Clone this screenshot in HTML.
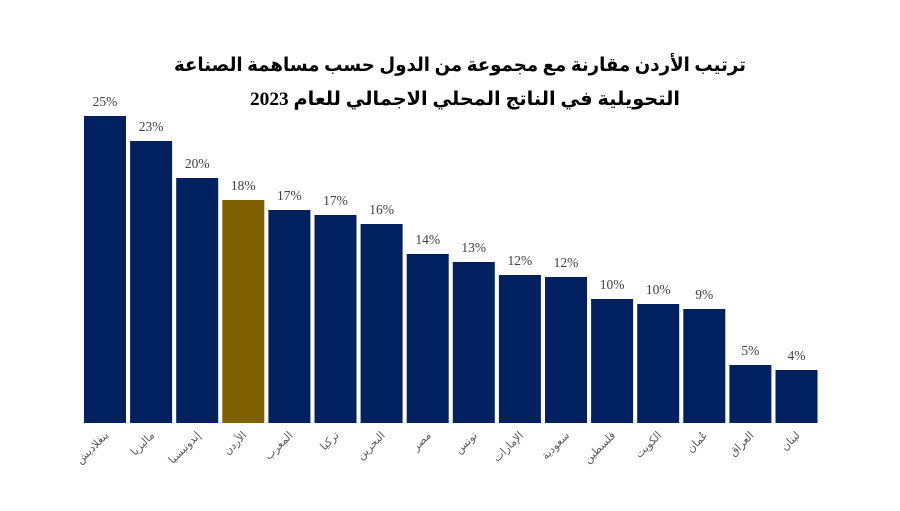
<!DOCTYPE html>
<html><head><meta charset="utf-8"><style>
body{margin:0;background:#fff;width:900px;height:506px;overflow:hidden}
</style></head><body>
<svg width="900" height="506" xmlns="http://www.w3.org/2000/svg" font-family="'Liberation Serif','DejaVu Serif','DejaVu Sans',serif">
<text x="460" y="71" text-anchor="middle" font-size="19" font-weight="bold" fill="#000" direction="rtl" textLength="572" lengthAdjust="spacingAndGlyphs">ترتيب الأردن مقارنة مع مجموعة من الدول حسب مساهمة الصناعة</text>
<text x="465" y="105" text-anchor="middle" font-size="19" font-weight="bold" fill="#000" direction="rtl" textLength="430" lengthAdjust="spacingAndGlyphs">التحويلية في الناتج المحلي الاجمالي للعام 2023</text>
<g id="bars"></g>
</svg>
<script>
var d=[["بنغلاديش",25,116],["ماليزيا",23,141],["إندونيسيا",20,178],["الأردن",18,200],["المغرب",17,210],["تركيا",17,215],["البحرين",16,224],["مصر",14,254],["تونس",13,262],["الإمارات",12,275],["سعودية",12,277],["فلسطين",10,299],["الكويت",10,304],["عُمان",9,309],["العراق",5,365],["لبنان",4,370]];
var g=document.getElementById('bars'),s='';
d.forEach(function(r,i){var x=84+i*46.1,w=42,c=x+w/2;
s+='<rect x="'+x+'" y="'+r[2]+'" width="'+w+'" height="'+(423-r[2])+'" fill="'+(i==3?'#7F6000':'#002060')+'"/>';
s+='<text x="'+c+'" y="'+(r[2]-10)+'" text-anchor="middle" font-size="13.5" fill="#404040">'+r[1]+'%</text>';
s+='<text transform="translate('+(c+4)+',436) rotate(-45)" text-anchor="end" font-size="11" fill="#595959" font-family="DejaVu Sans,sans-serif">'+r[0]+'</text>';});
g.innerHTML=s;
</script>
</body></html>
